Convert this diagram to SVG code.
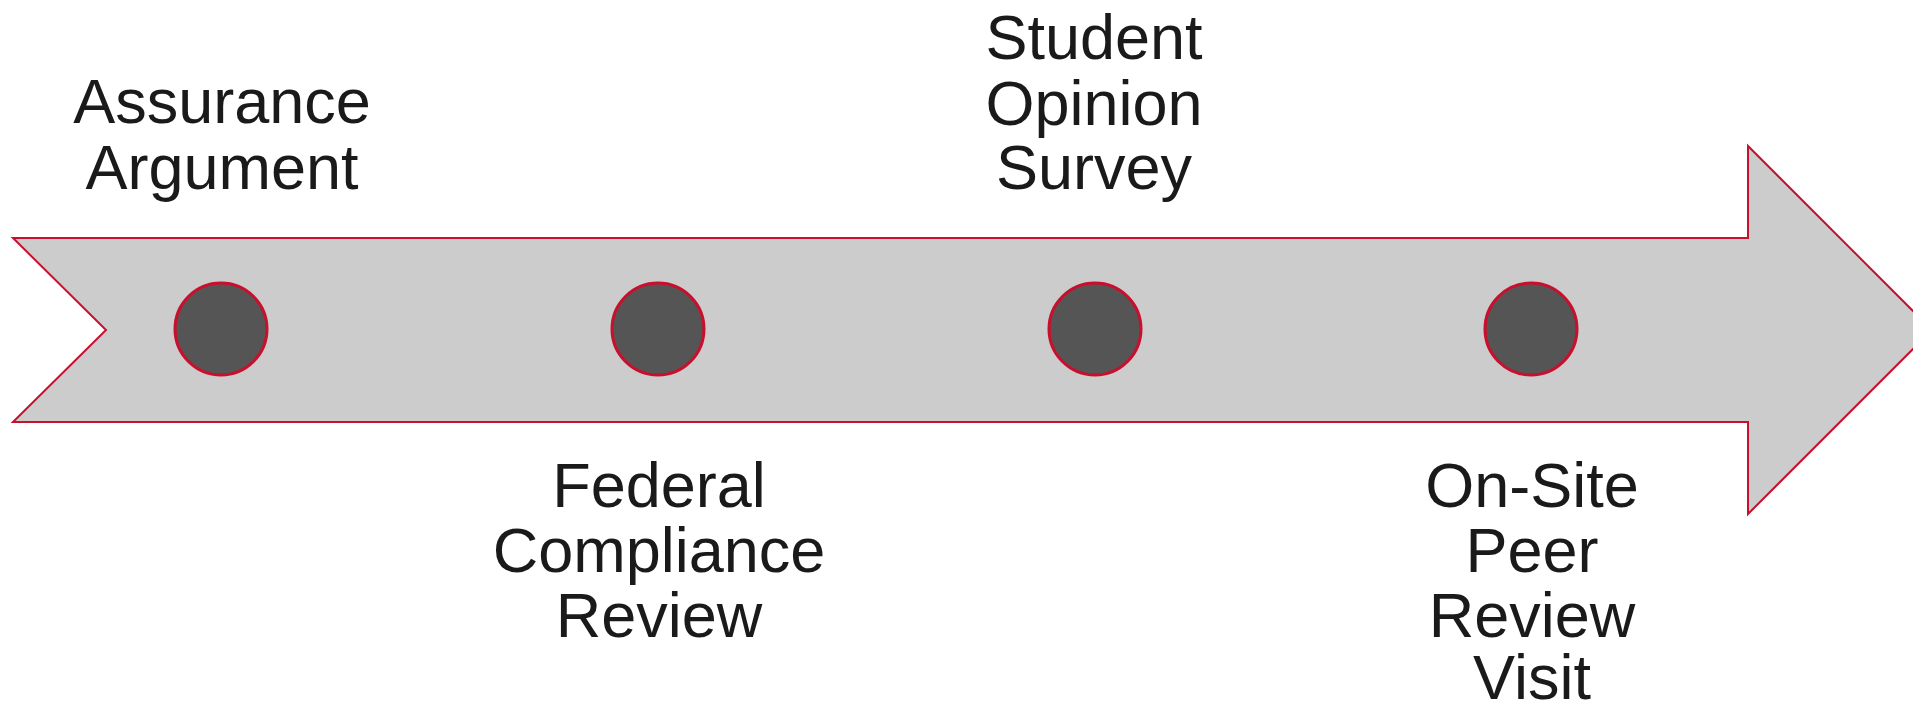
<svg xmlns="http://www.w3.org/2000/svg" width="1913" height="707" viewBox="0 0 1913 707">
<style>
.lbl{font-family:"Liberation Sans",Arial,sans-serif;font-size:63px;fill:#1a1a1a;text-anchor:middle}
.dot{fill:#555555;stroke:#C8102E;stroke-width:3}
.arrow{fill:#CCCCCC;stroke:#C8102E;stroke-width:2}
</style>
<rect width="1913" height="707" fill="#ffffff"/>
<g id="timeline-arrow">
<polygon class="arrow" points="13,238 1748,238 1748,146 1932,330 1748,514 1748,422 13,422 106,330"/>
</g>
<g id="node-assurance">
<circle class="dot" cx="221" cy="329" r="46"/>
<text class="lbl" x="222" y="123">Assurance</text>
<text class="lbl" x="222" y="189">Argument</text>
</g>
<g id="node-federal">
<circle class="dot" cx="658" cy="329" r="46"/>
<text class="lbl" x="659" y="507">Federal</text>
<text class="lbl" x="659" y="572">Compliance</text>
<text class="lbl" x="659" y="637">Review</text>
</g>
<g id="node-student">
<circle class="dot" cx="1095" cy="329" r="46"/>
<text class="lbl" x="1094" y="59">Student</text>
<text class="lbl" x="1094" y="125">Opinion</text>
<text class="lbl" x="1094" y="189">Survey</text>
</g>
<g id="node-onsite">
<circle class="dot" cx="1531" cy="329" r="46"/>
<text class="lbl" x="1532" y="507">On-Site</text>
<text class="lbl" x="1532" y="572">Peer</text>
<text class="lbl" x="1532" y="637">Review</text>
<text class="lbl" x="1532" y="699">Visit</text>
</g>
<g id="connectors"></g>
</svg>
